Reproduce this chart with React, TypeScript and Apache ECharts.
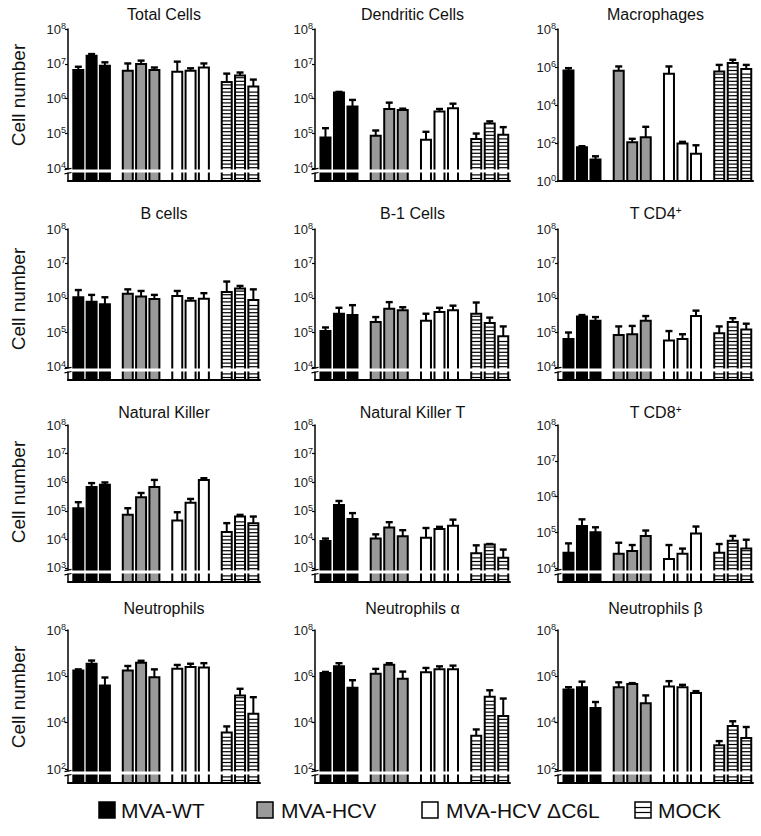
import React, { useEffect, useRef } from 'react';
import * as echarts from 'echarts';

const groupNames = ['MVA-WT', 'MVA-HCV', 'MVA-HCV ΔC6L', 'MOCK'];

const ticks4to8 = [4, 5, 6, 7, 8];
const ticks3to8 = [3, 4, 5, 6, 7, 8];
const ticks0to8 = [0, 2, 4, 6, 8];
const ticks2to8 = [2, 4, 6, 8];

// 12 bars per panel: 3 per group, groups in order of groupNames
const totalMean = [6.6e6, 1.7e7, 8.7e6, 6.3e6, 9.8e6, 6.6e6, 5.9e6, 6.3e6, 7.8e6, 3.0e6, 4.6e6, 2.2e6];
const totalUpper = [8.2e6, 1.9e7, 1.1e7, 1.02e7, 1.23e7, 7.8e6, 1.15e7, 7.4e6, 1.02e7, 5.2e6, 5.6e6, 3.5e6];

const dcMean = [7.6e4, 1.5e6, 5.9e5, 8.5e4, 5.0e5, 4.7e5, 6.5e4, 4.2e5, 5.2e5, 6.8e4, 1.9e5, 9.1e4];
const dcUpper = [1.4e5, 1.55e6, 9.1e5, 1.2e5, 7.6e5, 5.1e5, 1.1e5, 5.0e5, 7.1e5, 9.8e4, 2.2e5, 1.5e5];

const macMean = [6.6e5, 60, 13.5, 6.3e5, 110, 200, 4.4e5, 93, 27, 5.8e5, 1.6e6, 7.9e5];
const macUpper = [8.7e5, 68, 20, 1.07e6, 166, 710, 1.07e6, 115, 76, 1.29e6, 2.4e6, 1.29e6];

const bMean = [1.05e6, 7.8e5, 6.6e5, 1.32e6, 1.1e6, 9.3e5, 1.15e6, 8.3e5, 9.5e5, 1.5e6, 1.9e6, 8.7e5];
const bUpper = [1.7e6, 1.23e6, 1.05e6, 1.78e6, 1.6e6, 1.23e6, 1.6e6, 9.8e5, 1.38e6, 3.0e6, 2.24e6, 1.78e6];

const b1Mean = [1.1e5, 3.5e5, 3.2e5, 2.0e5, 4.9e5, 4.4e5, 2.2e5, 3.9e5, 4.4e5, 3.5e5, 1.9e5, 7.8e4];
const b1Upper = [1.4e5, 5.2e5, 6.2e5, 2.8e5, 7.6e5, 5.4e5, 3.5e5, 5.2e5, 6.0e5, 7.4e5, 2.7e5, 1.5e5];

const cd4Mean = [6.5e4, 2.9e5, 2.2e5, 8.5e4, 8.9e4, 2.2e5, 5.9e4, 6.5e4, 3.0e5, 9.5e4, 2.0e5, 1.23e5];
const cd4Upper = [1.0e5, 3.2e5, 2.8e5, 1.5e5, 1.55e5, 3.0e5, 1.1e5, 8.9e4, 4.3e5, 1.5e5, 2.6e5, 1.8e5];

const nkMean = [1.23e5, 6.8e5, 8.1e5, 7.2e4, 3.0e5, 6.8e5, 4.6e4, 1.9e5, 1.2e6, 1.8e4, 6.3e4, 3.7e4];
const nkUpper = [2.0e5, 9.3e5, 9.8e5, 1.23e5, 4.2e5, 1.2e6, 8.9e4, 2.6e5, 1.38e6, 3.7e4, 7.2e4, 6.3e4];

const nktMean = [8.7e3, 1.6e5, 5.2e4, 1.07e4, 2.6e4, 1.3e4, 1.15e4, 2.3e4, 3.0e4, 3.3e3, 6.6e3, 2.3e3];
const nktUpper = [1.07e4, 2.2e5, 8.3e4, 1.5e4, 4.0e4, 2.1e4, 2.5e4, 2.75e4, 4.9e4, 6.2e3, 6.9e3, 4.4e3];

const cd8Mean = [2.7e4, 1.5e5, 1.0e5, 2.5e4, 3.0e4, 7.9e4, 1.8e4, 2.5e4, 9.3e4, 2.7e4, 5.8e4, 3.5e4];
const cd8Upper = [4.9e4, 2.3e5, 1.38e5, 5.1e4, 4.4e4, 1.12e5, 4.4e4, 3.5e4, 1.45e5, 4.7e4, 7.9e4, 6.2e4];

const neuMean = [1.8e6, 3.5e6, 4.0e5, 1.8e6, 3.9e6, 9.1e5, 2.1e6, 2.5e6, 2.4e6, 3.8e3, 1.5e5, 2.4e4];
const neuUpper = [2.0e6, 4.8e6, 8.9e5, 2.8e6, 4.7e6, 2.0e6, 3.1e6, 3.5e6, 3.7e6, 6.9e3, 2.9e5, 1.26e5];

const neuAMean = [1.4e6, 2.7e6, 3.2e5, 1.3e6, 3.2e6, 7.8e5, 1.5e6, 2.0e6, 2.0e6, 2.7e3, 1.3e5, 1.95e4];
const neuAUpper = [1.55e6, 3.7e6, 6.8e5, 2.1e6, 3.7e6, 1.6e6, 2.3e6, 2.7e6, 2.9e6, 5.1e3, 2.5e5, 1.1e5];

const neuBMean = [2.7e5, 3.4e5, 4.3e4, 3.4e5, 4.7e5, 6.9e4, 3.6e5, 3.4e5, 1.9e5, 1.07e3, 7.2e3, 2.2e3];
const neuBUpper = [3.4e5, 5.9e5, 7.8e4, 5.5e5, 5.1e5, 1.5e5, 6.2e5, 4.3e5, 2.3e5, 1.6e3, 1.15e4, 6.5e3];

const FONT = '"Liberation Sans", Arial, Helvetica, sans-serif';
const FILLS = ['#000000', '#9a9a9a', '#ffffff', '#ffffff'];
const COLS = [
  { left: 68, width: 192 },
  { left: 315, width: 195 },
  { left: 558, width: 195 },
];
const ROWS = [
  { top: 29, bottom: 181, titleY: 14, labelY: 95 },
  { top: 229, bottom: 380, titleY: 213, labelY: 299 },
  { top: 425, bottom: 582, titleY: 412, labelY: 492 },
  { top: 630, bottom: 783, titleY: 608, labelY: 697 },
];

const panels = [
  { title: 'Total Cells', mean: totalMean, upper: totalUpper, ticks: ticks4to8, min: 3.626, brk: true },
  { title: 'Dendritic Cells', mean: dcMean, upper: dcUpper, ticks: ticks4to8, min: 3.626, brk: true },
  { title: 'Macrophages', mean: macMean, upper: macUpper, ticks: ticks0to8, min: 0, brk: false },
  { title: 'B cells', mean: bMean, upper: bUpper, ticks: ticks4to8, min: 3.623, brk: true },
  { title: 'B-1 Cells', mean: b1Mean, upper: b1Upper, ticks: ticks4to8, min: 3.623, brk: true },
  { title: 'T CD4+', mean: cd4Mean, upper: cd4Upper, ticks: ticks4to8, min: 3.623, brk: true },
  { title: 'Natural Killer', mean: nkMean, upper: nkUpper, ticks: ticks3to8, min: 2.51, brk: true },
  { title: 'Natural Killer T', mean: nktMean, upper: nktUpper, ticks: ticks3to8, min: 2.51, brk: true },
  { title: 'T CD8+', mean: cd8Mean, upper: cd8Upper, ticks: ticks4to8, min: 3.61, brk: true },
  { title: 'Neutrophils', mean: neuMean, upper: neuUpper, ticks: ticks2to8, min: 1.396, brk: true },
  { title: 'Neutrophils α', mean: neuAMean, upper: neuAUpper, ticks: ticks2to8, min: 1.396, brk: true },
  { title: 'Neutrophils β', mean: neuBMean, upper: neuBUpper, ticks: ticks2to8, min: 1.396, brk: true },
];

const GROUP_PITCH = 3.72;

function renderBars(params: any, api: any) {
  const x = api.value(0) as number;
  const m = api.value(1) as number;
  const u = api.value(2) as number;
  const g = api.value(3) as number;
  const cs = params.coordSys;
  const base = cs.y + cs.height;
  const pTop = api.coord([x, m]);
  const pUp = api.coord([x, u]);
  const cx = pTop[0];
  const hw = 5;
  const children: any[] = [];
  if (pUp[1] < pTop[1]) {
    children.push({
      type: 'line',
      shape: { x1: cx, y1: pTop[1], x2: cx, y2: pUp[1] },
      style: { stroke: '#000', lineWidth: 2 },
    });
    children.push({
      type: 'line',
      shape: { x1: cx - 3.5, y1: pUp[1], x2: cx + 3.5, y2: pUp[1] },
      style: { stroke: '#000', lineWidth: 2.4 },
    });
  }
  children.push({
    type: 'rect',
    shape: { x: cx - hw, y: pTop[1], width: hw * 2, height: base - pTop[1] },
    style: { fill: FILLS[g], stroke: '#000', lineWidth: 2 },
  });
  if (g === 3) {
    for (let yy = base - 2.5; yy > pTop[1] + 2; yy -= 3.6) {
      children.push({
        type: 'line',
        shape: { x1: cx - hw, y1: yy, x2: cx + hw, y2: yy },
        style: { stroke: '#000', lineWidth: 1.2 },
      });
    }
  }
  return { type: 'group', children };
}

function renderBreak(params: any) {
  const cs = params.coordSys;
  const base = cs.y + cs.height;
  const ax = cs.x;
  const yA = base - 12;
  const yB = base - 7.8;
  return {
    type: 'group',
    children: [
      {
        type: 'rect',
        shape: { x: ax - 6, y: yA + 0.6, width: cs.width + 6, height: yB - yA - 1.2 },
        style: { fill: '#ffffff' },
      },
      {
        type: 'line',
        shape: { x1: ax - 3.5, y1: yA + 0.7, x2: ax + 3.5, y2: yA - 0.7 },
        style: { stroke: '#000', lineWidth: 1.2 },
      },
      {
        type: 'line',
        shape: { x1: ax - 3.5, y1: yB + 0.7, x2: ax + 3.5, y2: yB - 0.7 },
        style: { stroke: '#000', lineWidth: 1.2 },
      },
    ],
  };
}

function titleText(t: string) {
  return t.endsWith('+') ? t.slice(0, -1) + '{s|+}' : t;
}

export default function App() {
  const ref = useRef<HTMLDivElement>(null);
  useEffect(() => {
    if (!ref.current) return;
    const chart = echarts.init(ref.current, undefined, { renderer: 'svg' });

    const grids = panels.map((p, i) => {
      const c = COLS[i % 3];
      const r = ROWS[Math.floor(i / 3)];
      return { left: c.left, width: c.width, top: r.top, height: r.bottom - r.top };
    });

    const xAxes = panels.map((p, i) => ({
      gridIndex: i,
      type: 'value',
      min: -0.775,
      max: 13.66,
      axisLine: { show: true, onZero: false, lineStyle: { color: '#000', width: 2 } },
      axisTick: { show: false },
      axisLabel: { show: false },
      splitLine: { show: false },
    }));

    const yAxes = panels.map((p, i) => ({
      gridIndex: i,
      type: 'value',
      min: p.min,
      max: 8,
      axisLine: { show: true, onZero: false, lineStyle: { color: '#000', width: 1.5 } },
      axisTick: { show: true, length: 3, customValues: p.ticks, lineStyle: { color: '#000', width: 1.2 } },
      axisLabel: {
        customValues: p.ticks,
        margin: 2,
        formatter: (v: number) => `{b|10}{s|${Math.round(v)}}`,
        rich: {
          b: { fontSize: 13, fontFamily: FONT, color: '#222', lineHeight: 15 },
          s: { fontSize: 9, fontFamily: FONT, color: '#222', verticalAlign: 'top', lineHeight: 9 },
        },
      },
      splitLine: { show: false },
    }));

    const barSeries = panels.map((p, i) => ({
      type: 'custom',
      name: p.title,
      xAxisIndex: i,
      yAxisIndex: i,
      clip: false,
      silent: true,
      z: 2,
      renderItem: renderBars,
      data: p.mean.map((m, k) => {
        const g = Math.floor(k / 3);
        const j = k % 3;
        return [g * GROUP_PITCH + j, Math.log10(m), Math.log10(p.upper[k]), g];
      }),
    }));

    const breakSeries = panels
      .map((p, i) => ({ p, i }))
      .filter(({ p }) => p.brk)
      .map(({ p, i }) => ({
        type: 'custom',
        xAxisIndex: i,
        yAxisIndex: i,
        clip: false,
        silent: true,
        z: 5,
        renderItem: renderBreak,
        data: [[0, p.min]],
      }));

    const graphics: any[] = [];
    panels.forEach((p, i) => {
      const c = COLS[i % 3];
      const r = ROWS[Math.floor(i / 3)];
      graphics.push({
        type: 'text',
        x: c.left + c.width / 2,
        y: r.titleY,
        style: {
          text: titleText(p.title),
          fontSize: 16,
          fontFamily: FONT,
          fill: '#111',
          align: 'center',
          verticalAlign: 'middle',
          rich: { s: { fontSize: 10, fontFamily: FONT, fill: '#111', verticalAlign: 'top', lineHeight: 10 } },
        },
      });
    });
    ROWS.forEach((r) => {
      graphics.push({
        type: 'text',
        x: 18,
        y: r.labelY,
        rotation: Math.PI / 2,
        style: {
          text: 'Cell number',
          fontSize: 19,
          fontFamily: FONT,
          fill: '#111',
          align: 'center',
          verticalAlign: 'middle',
        },
      });
    });
    const legendX = [99, 257, 422, 635];
    const legendTextX = [121, 281, 446, 658];
    const ly = 802;
    groupNames.forEach((name, g) => {
      graphics.push({
        type: 'rect',
        shape: { x: legendX[g], y: ly, width: 16, height: 16 },
        style: { fill: FILLS[g], stroke: '#000', lineWidth: 1.5 },
      });
      if (g === 3) {
        [5.5, 10.5].forEach((dy) => {
          graphics.push({
            type: 'line',
            shape: { x1: legendX[g], y1: ly + dy, x2: legendX[g] + 16, y2: ly + dy },
            style: { stroke: '#000', lineWidth: 1.2 },
          });
        });
      }
      graphics.push({
        type: 'text',
        x: legendTextX[g],
        y: ly + 8.5,
        style: {
          text: name,
          fontSize: 21,
          fontFamily: FONT,
          fill: '#111',
          align: 'left',
          verticalAlign: 'middle',
        },
      });
    });

    chart.setOption({
      animation: false,
      backgroundColor: '#ffffff',
      grid: grids,
      xAxis: xAxes,
      yAxis: yAxes,
      series: [...barSeries, ...breakSeries],
      graphic: graphics,
    } as any);

    return () => chart.dispose();
  }, []);

  return (
    <div
      ref={ref}
      style={{ position: 'absolute', left: 0, top: 0, width: 761, height: 836, background: '#fff' }}
    />
  );
}
